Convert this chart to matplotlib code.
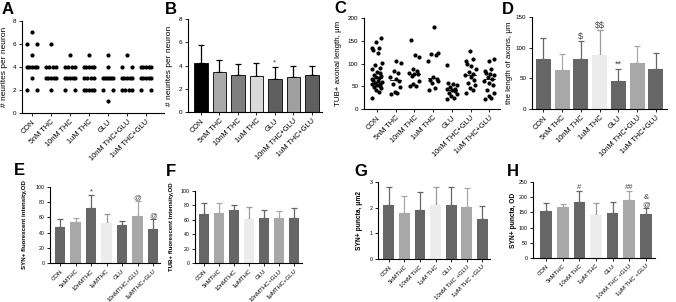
import numpy as np
import matplotlib
matplotlib.use("Agg")
import matplotlib.pyplot as plt

plt.rcParams['font.family'] = ['Liberation Sans', 'DejaVu Sans']
plt.rcParams['text.parse_math'] = False

W, H = 676, 302

groups_top = ['CON', '5nM THC', '10nM THC', '1uM THC', 'GLU', '10nM THC+GLU', '1uM THC+GLU']
groups_ef = ['CON', '5nMTHC', '10nMTHC', '1μMTHC', 'GLU', '10nMTHC+GLU', '1μMTHC+GLU']
groups_gh = ['CON', '5nMTHC', '10nM THC', '1μM THC', 'GLU', '10nM THC +GLU', '1μM THC +GLU']

# A: neurites per neuron (individual cells)
neurites = [
    [7, 6, 6, 5, 4, 4, 4, 4, 4, 3, 2, 2],
    [6, 4, 4, 4, 4, 3, 3, 3, 3, 3, 2],
    [5, 4, 4, 4, 4, 3, 3, 3, 3, 3, 2, 2],
    [5, 4, 4, 4, 4, 4, 3, 3, 3, 3, 2, 2, 2, 2, 2],
    [5, 4, 3, 3, 3, 3, 3, 3, 2, 2, 1],
    [5, 4, 4, 3, 3, 3, 3, 3, 2, 2, 2, 2],
    [4, 4, 4, 4, 4, 3, 3, 3, 3, 3, 2, 2],
]

# B: mean neurites +/- SD
neur_mean = [4.2, 3.45, 3.2, 3.1, 2.85, 3.05, 3.2]
neur_sd = [1.6, 1.05, 0.9, 1.1, 1.05, 0.95, 0.8]
neur_sig = ['', '', '', '', '*', '', '']

# C: axonal length (individual cells)
axon = [
    [157, 147, 135, 133, 130, 124, 101, 96, 90, 87, 82, 79, 75, 72, 70, 68, 66,
     64, 62, 60, 58, 56, 54, 52, 50, 48, 46, 42, 38, 24],
    [105, 101, 84, 80, 70, 66, 62, 56, 48, 38, 35, 33],
    [151, 118, 115, 88, 84, 80, 78, 76, 72, 62, 54, 51, 50],
    [180, 124, 121, 118, 105, 70, 66, 64, 62, 58, 46, 42],
    [96, 57, 55, 52, 48, 45, 43, 42, 40, 36, 33, 28, 24, 21],
    [127, 110, 106, 98, 94, 88, 82, 76, 74, 70, 64, 58, 52, 46, 42, 35],
    [110, 105, 88, 84, 80, 78, 74, 70, 66, 62, 58, 52, 42, 36, 28, 24, 22],
]

# D: length of axons
axlen_mean = [82, 63, 82, 88, 46, 75, 65]
axlen_sd = [34, 26, 29, 40, 19, 27, 26]
axlen_sig = ['', '', '$', '$$', '**', '', '']

# E: SYN+ fluorescent intensity
syn_mean = [48, 54, 72, 53, 50, 62, 45]
syn_sd = [10, 5, 17, 12, 5, 19, 13]
syn_sig = ['', '', '*', '', '', '@', '@']

# F: TUB+ fluorescent intensity
tub_mean = [68, 70, 74, 61, 63, 62, 62]
tub_sd = [15, 14, 7, 17, 11, 10, 15]

# G: SYN+ puncta area
punct_mean = [2.12, 1.8, 1.9, 2.12, 2.1, 2.02, 1.55]
punct_sd = [0.7, 0.67, 0.7, 0.7, 0.72, 0.74, 0.5]

# H: SYN+ puncta OD
punod_mean = [153, 168, 183, 142, 149, 190, 145]
punod_sd = [27, 10, 38, 38, 36, 31, 20]
punod_sig = ['', '', '#', '', '', '##', '&\n@']

grey_cols = ['#666666', '#a8a8a8', '#666666', '#ececec', '#666666', '#a8a8a8', '#666666']
b_cols = ['#000000', '#a9a9a9', '#7f7f7f', '#d9d9d9', '#5f5f5f', '#a0a0a0', '#5f5f5f']

fig = plt.figure(figsize=(W / 100, H / 100), dpi=100)


def make_ax(x0, x1, ytop, ybot):
    return fig.add_axes([x0 / W, 1 - ybot / H, (x1 - x0) / W, (ybot - ytop) / H])


def style(ax, labels, fs, yts, ylabel, yfs, ylx, bold=False):
    for s in ['top', 'right']:
        ax.spines[s].set_visible(False)
    for s in ['left', 'bottom']:
        ax.spines[s].set_linewidth(0.8)
    ax.set_xticks(range(len(labels)))
    ax.set_xticklabels(labels, rotation=45, ha='right', rotation_mode='anchor', fontsize=fs)
    ax.tick_params(axis='both', length=2.5, width=0.6, pad=1.5)
    ax.tick_params(axis='y', labelsize=yts)
    ax.set_ylabel(ylabel, fontsize=yfs, fontweight='bold' if bold else 'normal')
    ax.yaxis.set_label_coords(ylx, 0.5)


def bars(ax, means, sds, cols, edge=None, errc=None, sig=None, width=0.7, sigfs=6):
    x = np.arange(len(means))
    ax.bar(x, means, width=width, color=cols, edgecolor=edge if edge else cols,
           linewidth=0.6 if edge else 0, zorder=2)
    for i in range(len(means)):
        ec = errc if errc else (cols[i] if cols[i] != '#ececec' else '#9a9a9a')
        ax.errorbar(x[i], means[i], yerr=[[0], [sds[i]]], fmt='none', ecolor=ec,
                    elinewidth=0.9, capsize=2.2, capthick=0.9, zorder=1)
        if sig and sig[i]:
            ax.text(x[i], means[i] + sds[i], sig[i], ha='center', va='bottom',
                    fontsize=sigfs, color='#444444', linespacing=1.0)


# ---- A
ax = make_ax(22, 164, 20.7, 113)
for i, vals in enumerate(neurites):
    for v in sorted(set(vals)):
        n = vals.count(v)
        xs = i + (np.linspace(-0.28, 0.28, n) if n > 1 else np.array([0.0]))
        ax.scatter(xs, [v] * n, s=9, color='black', zorder=3, linewidths=0)
ax.set_xlim(-0.53, 6.95)
ax.set_ylim(0, 8)
ax.set_yticks([0, 2, 4, 6, 8])
style(ax, groups_top, 5.3, 4.5, '# neurites per neuron', 6, -0.1)

# ---- B
ax = make_ax(188, 322, 19, 112)
bars(ax, neur_mean, neur_sd, b_cols, edge='black', errc='black', sig=neur_sig, width=0.74)
ax.set_xlim(-0.7, 6.54)
ax.set_ylim(0, 8)
ax.set_yticks([0, 2, 4, 6, 8])
style(ax, groups_top, 5.3, 4.5, '# neurites per neuron', 6, -0.11)

# ---- C
ax = make_ax(364, 500, 18, 109)
pattern = [-0.55, 0.25, -0.1, 0.6, -0.35, 0.45, 0.0, -0.65, 0.35, -0.2, 0.65, 0.1, -0.45]
for i, vals in enumerate(axon):
    sv = sorted(vals)
    xs = [i + pattern[k % len(pattern)] * 0.42 for k in range(len(sv))]
    ax.scatter(xs, sv, s=9, color='black', zorder=3, linewidths=0)
    md = np.median(vals)
    ax.plot([i - 0.28, i + 0.28], [md, md], color='black', lw=0.6, zorder=2)
ax.set_xlim(-0.68, 6.57)
ax.set_ylim(0, 200)
ax.set_yticks([0, 50, 100, 150, 200])
style(ax, groups_top, 5.3, 4.5, 'TUB+ axonal length, μm', 5.7, -0.16)

# ---- D
ax = make_ax(532, 667, 17, 109)
bars(ax, axlen_mean, axlen_sd, grey_cols, sig=axlen_sig, width=0.8, sigfs=6.5)
ax.set_xlim(-0.6, 6.6)
ax.set_ylim(0, 150)
ax.set_yticks([0, 50, 100, 150])
style(ax, groups_top, 5.3, 4.5, 'the length of axons, μm', 5.7, -0.14)

# ---- E
ax = make_ax(50, 160, 187, 263)
bars(ax, syn_mean, syn_sd, grey_cols, sig=syn_sig, width=0.68, sigfs=5.5)
ax.set_xlim(-0.65, 6.45)
ax.set_ylim(0, 100)
ax.set_yticks([0, 20, 40, 60, 80, 100])
style(ax, groups_ef, 4.3, 3.8, 'SYN+ fluorescent intensity,OD', 4.4, -0.21, bold=True)

# ---- F
ax = make_ax(195, 302, 191, 263)
bars(ax, tub_mean, tub_sd, grey_cols, width=0.68)
ax.set_xlim(-0.6, 6.55)
ax.set_ylim(0, 100)
ax.set_yticks([0, 20, 40, 60, 80, 100])
style(ax, groups_ef, 4.3, 3.8, 'TUB+ fluorescent intensity,OD', 4.4, -0.2, bold=True)

# ---- G
ax = make_ax(378, 490, 182, 259)
bars(ax, punct_mean, punct_sd, grey_cols, width=0.7)
ax.set_xlim(-0.7, 6.5)
ax.set_ylim(0, 3)
ax.set_yticks([0, 1, 2, 3])
style(ax, groups_gh, 4.3, 3.8, 'SYN+ puncta, μm2', 4.8, -0.13, bold=True)

# ---- H
ax = make_ax(533, 655, 182, 258)
bars(ax, punod_mean, punod_sd, grey_cols, sig=punod_sig, width=0.7, sigfs=5.5)
ax.set_xlim(-0.8, 6.55)
ax.set_ylim(0, 250)
ax.set_yticks([0, 50, 100, 150, 200, 250])
style(ax, groups_gh, 4.3, 3.8, 'SYN+ puncta, OD', 4.8, -0.13, bold=True)

# panel letters
for lab, px, py in [('A', 2, 2), ('B', 165, 2), ('C', 334, 1), ('D', 502, 2),
                    ('E', 14, 163), ('F', 166, 164), ('G', 354, 164), ('H', 507, 164)]:
    fig.text(px / W, 1 - py / H, lab, fontsize=12, fontweight='bold', ha='left', va='top')

fig.savefig('out.png', dpi=100)
